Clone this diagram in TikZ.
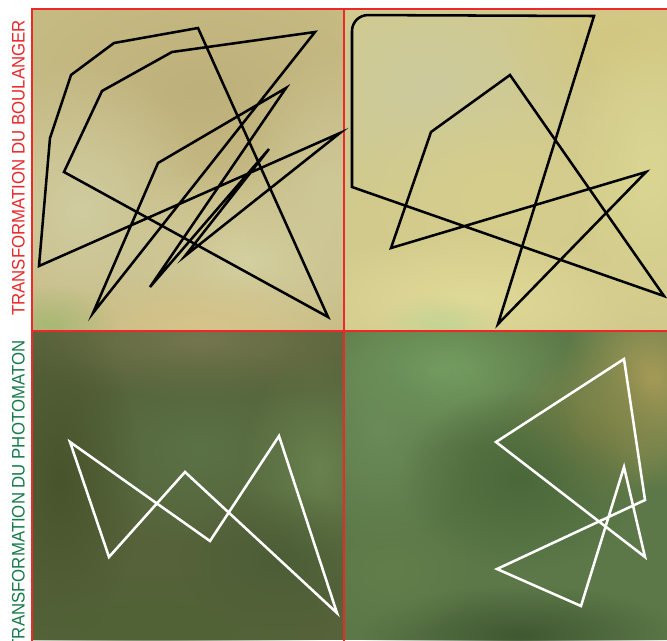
\documentclass[tikz,border=0pt]{standalone}
\usepackage{fontspec}
\newfontfamily\labelfont{Liberation Sans}
\usetikzlibrary{fadings}

\tikzfading[name=blur, inner color=transparent!0, outer color=transparent!100]

\definecolor{framered}{RGB}{236,40,40}
\definecolor{labelred}{RGB}{232,40,42}
\definecolor{labelgreen}{RGB}{22,122,74}
% photo tones
\definecolor{bakerA}{RGB}{198,186,131}
\definecolor{bakerB}{RGB}{210,202,140}
\definecolor{photoA}{RGB}{86,98,58}
\definecolor{photoB}{RGB}{92,120,72}

\tikzset{
  blob/.style={fill=#1, path fading=blur},
  strokeblack/.style={draw=black, line width=1.9pt},
  strokewhite/.style={draw=white, line width=1.9pt},
  sidelabel/.style={rotate=90, inner sep=0pt, font=\labelfont\fontsize{12.6pt}{14pt}\selectfont}
}

\newcommand\blobrgb[6]{%
  \definecolor{tmpblob}{RGB}{#1}%
  \fill[blob=tmpblob] (#2,#3) ellipse (#4 and #5);}

\begin{document}
\begin{tikzpicture}[x=0.75pt, y=-0.75pt, line join=miter]
  \useasboundingbox (0,0) rectangle (667,640);

  % Boulanger, first image
  \fill[bakerA] (32,9) rectangle (344,331);
  \begin{scope}
    \clip (32,9) rectangle (344,331);
    \blobrgb{190,176,122}{200}{90}{180}{110}{}
    \blobrgb{208,204,160}{80}{210}{130}{150}{}
    \blobrgb{212,208,160}{250}{260}{150}{100}{}
    \blobrgb{214,196,138}{200}{325}{160}{50}{}
    \blobrgb{168,184,116}{50}{325}{70}{40}{}
    \blobrgb{206,200,152}{330}{190}{90}{140}{}
  \end{scope}

  % Boulanger, second image
  \fill[bakerB] (344,9) rectangle (667,331);
  \begin{scope}
    \clip (344,9) rectangle (667,331);
    \blobrgb{204,202,158}{430}{90}{170}{130}{}
    \blobrgb{210,198,128}{630}{40}{130}{80}{}
    \blobrgb{214,206,140}{500}{200}{160}{120}{}
    \blobrgb{224,218,152}{470}{300}{180}{70}{}
    \blobrgb{196,212,148}{440}{325}{60}{30}{}
    \blobrgb{218,214,146}{650}{170}{80}{160}{}
  \end{scope}

  % Photomaton, first image
  \fill[photoA] (32,331) rectangle (344,640);
  \begin{scope}
    \clip (32,331) rectangle (344,640);
    \blobrgb{116,118,78}{200}{340}{200}{60}{}
    \blobrgb{90,114,70}{200}{450}{150}{100}{}
    \blobrgb{72,84,44}{60}{480}{80}{160}{}
    \blobrgb{104,130,78}{320}{470}{80}{120}{}
    \blobrgb{76,94,54}{280}{560}{100}{70}{}
    \blobrgb{80,98,54}{150}{625}{180}{50}{}
  \end{scope}

  % Photomaton, second image
  \fill[photoB] (344,331) rectangle (667,640);
  \begin{scope}
    \clip (344,331) rectangle (667,640);
    \blobrgb{118,160,98}{440}{370}{140}{80}{}
    \blobrgb{106,140,88}{380}{430}{100}{120}{}
    \blobrgb{168,156,88}{650}{380}{90}{110}{}
    \blobrgb{128,132,72}{590}{430}{90}{80}{}
    \blobrgb{74,104,58}{520}{480}{120}{90}{}
    \blobrgb{64,88,50}{520}{635}{160}{50}{}
    \blobrgb{98,126,74}{390}{570}{90}{70}{}
  \end{scope}

  % frame between the four images
  \draw[framered, line width=1.6pt] (32,641) -- (32,9) -- (668,9);
  \draw[framered, line width=1pt] (344,9) -- (344,641);
  \draw[framered, line width=1pt] (32,331) -- (668,331);

  % row titles
  \node[sidelabel, labelred] (lblboulanger) at (18.5,168) {\scalebox{1}[1.08]{TRANSFORMATION DU BOULANGER}};
  \node[sidelabel, labelgreen] (lblphotomaton) at (18.5,495) {\scalebox{1}[1.08]{TRANSFORMATION DU PHOTOMATON}};

  % first pass of the baker's map
  \draw[strokeblack] (39,266) -- (50,138) -- (71,75) -- (114,43) -- (198,28)
    -- (328,317) -- (64,172) -- (102,91) -- (172,52) -- (315,32)
    -- (93,313) -- (158,163) -- (286,88) -- (150,287) -- (269,149)
    -- (185,256) -- (340,133) -- cycle;

  % second pass
  \draw[strokeblack] (352,187) [rounded corners=12pt] -- (352,15) [sharp corners] -- (594,16)
    -- (498,324) -- (646,172) -- (391,248) -- (431,132) -- (510,75)
    -- (664,296) -- cycle;

  % photomaton, first pass
  \draw[strokewhite] (70,442) -- (109,557) -- (185,472) -- (337,613)
    -- (279,436) -- (210,541) -- cycle;

  % photomaton, second pass
  \draw[strokewhite] (624,359) -- (496,442) -- (645,557) -- (624,467)
    -- (581,606) -- (497,569) -- (645,500) -- cycle;
\end{tikzpicture}
\end{document}
